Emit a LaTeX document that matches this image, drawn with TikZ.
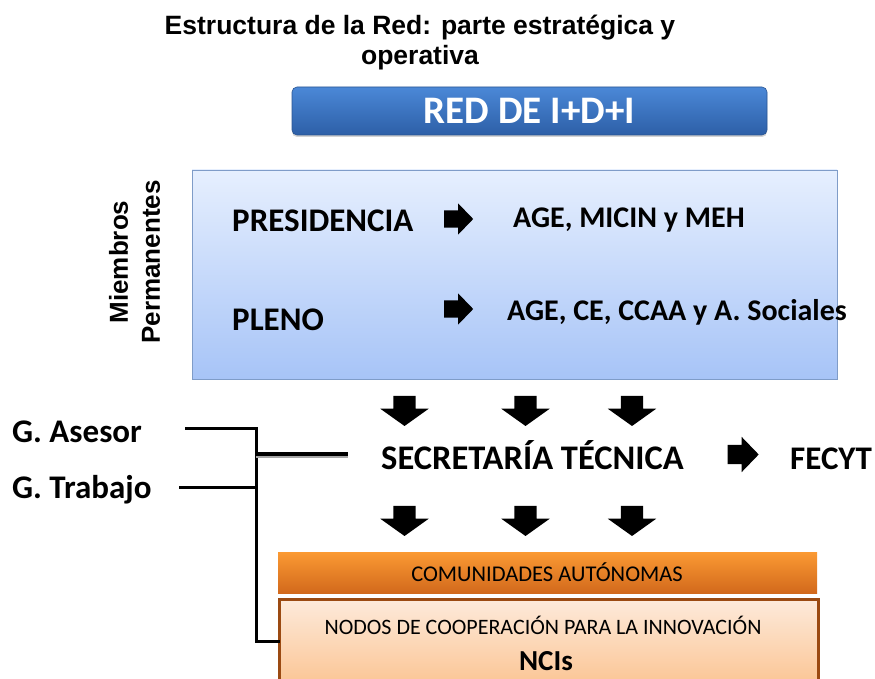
\documentclass[tikz,border=0pt]{standalone}
\usepackage{fontspec}
\setmainfont{Carlito}
\newfontfamily\arialf{Liberation Sans}
\usetikzlibrary{shapes.arrows,shadows}
\definecolor{blueTop}{HTML}{E6EFFE}
\definecolor{blueBot}{HTML}{A7C4F7}
\definecolor{blueBorder}{HTML}{7F9CC8}
\definecolor{redTop}{HTML}{4B88D7}
\definecolor{redBot}{HTML}{2D5FA7}
\definecolor{redBorder}{HTML}{2A5592}
\definecolor{orTop}{HTML}{FB9A33}
\definecolor{orBot}{HTML}{D2691C}
\definecolor{peTop}{HTML}{FDEADB}
\definecolor{peBot}{HTML}{FBC594}
\definecolor{peBorder}{HTML}{9B4A12}
\newcommand{\fsz}[1]{\fontsize{#1}{#1}\selectfont}
\begin{document}
\begin{tikzpicture}[x=1pt,y=-1pt,
  txt/.style={inner sep=0pt, anchor=base west, font=\bfseries\fsz{33}},
  agetxt/.style={inner sep=0pt, anchor=base west, font=\bfseries\fsz{30}},
  rarrow/.style={single arrow, fill=black, draw=none, inner xsep=0pt, inner ysep=8.5pt,
    minimum height=29pt, single arrow head extend=7pt,
    single arrow tip angle=92},
  darrow/.style={single arrow, fill=black, draw=none, inner xsep=0pt, inner ysep=11pt,
    minimum height=30pt, single arrow head extend=13pt,
    single arrow tip angle=109, rotate=270},
  conn/.style={line width=3pt, black},
  panel/.style={draw, inner sep=0pt}
]
\useasboundingbox (0,0) rectangle (875,679);

% title
\node[inner sep=0pt, anchor=north, align=center, font=\arialf\bfseries\fontsize{26.5}{30}\selectfont]
  (title) at (420,15) {Estructura de la Red: parte estratégica y\\operativa};

% RED box
\node[panel, rounded corners=5pt, draw=redBorder, line width=0.6pt,
  top color=redTop, bottom color=redBot,
  minimum width=475pt, minimum height=48pt,
  drop shadow={shadow xshift=0pt, shadow yshift=-2pt, opacity=0.35},
  text=white, font=\bfseries\fsz{39}] (red) at (529.5,111) {RED DE I+D+I};

% permanent members box
\node[panel, draw=blueBorder, line width=0.8pt, top color=blueTop, bottom color=blueBot,
  minimum width=645pt, minimum height=209pt] (perm) at (514.5,274.5) {};

\node[inner sep=0pt, rotate=90, font=\arialf\bfseries\fsz{26}] (miem) at (118.5,262) {Miembros};
\node[inner sep=0pt, rotate=90, font=\arialf\bfseries\fsz{26}] (permtxt) at (151,262) {Permanentes};

\node[txt] (pres) at (232,231) {PRESIDENCIA};
\node[rarrow] (a1) at (454.5,219) {};
\node[agetxt] (age1) at (513,227) {AGE, MICIN y MEH};

\node[txt] (pleno) at (232,330) {PLENO};
\node[rarrow] (a2) at (454.5,309) {};
\node[agetxt] (age2) at (507,320) {AGE, CE, CCAA y A. Sociales};

% down arrows row 1
\node[darrow] (d1) at (404.5,407) {};
\node[darrow] (d2) at (525.5,407) {};
\node[darrow] (d3) at (632,407) {};

% secretaria
\node[txt, font=\bfseries\fsz{34.5}] (sec) at (381,469) {SECRETARÍA TÉCNICA};
\node[rarrow, inner ysep=9.5pt, minimum height=31pt, single arrow head extend=8pt] (a3) at (738.5,454.5) {};
\node[txt] (fecyt) at (790,469) {FECYT};

% down arrows row 2
\node[darrow] (d4) at (404.5,517) {};
\node[darrow] (d5) at (525.5,517) {};
\node[darrow] (d6) at (632,517) {};

% groups
\node[txt] (ases) at (12,442) {G. Asesor};
\node[txt] (trab) at (12,498) {G. Trabajo};

% bottom boxes
\node[panel, draw=none, top color=orTop, bottom color=orBot,
  minimum width=539pt, minimum height=41pt] (ccaa) at (547.5,572.5) {};
\node[inner sep=0pt, font=\fsz{22.5}] (ccaatxt) at (547,572) {COMUNIDADES AUTÓNOMAS};

\node[panel, draw=peBorder, line width=3pt, top color=peTop, bottom color=peBot,
  minimum width=539pt, minimum height=86pt] (nci) at (549,642) {};
\node[inner sep=0pt, anchor=base, font=\fsz{22}] (ncitxt) at (543,634) {NODOS DE COOPERACIÓN PARA LA INNOVACIÓN};
\node[inner sep=0pt, anchor=base, font=\bfseries\fsz{29}] (ncis) at (546,670) {NCIs};

% connectors
\coordinate (aS) at (186,428);
\coordinate (tS) at (179,487);
\coordinate (jTop) at (256,428);
\coordinate (jBot) at (256,641);
\coordinate (jMid) at (256,454);
\coordinate (mEnd) at (348,454);
\draw[conn, line cap=rect] (aS) -- (jTop) -- (jBot) -- (jBot -| nci.west);
\draw[conn] (tS) -- (tS -| jTop);
\draw[line width=3pt, gray!70] ([yshift=-2.5pt]jMid) -- ([yshift=-2.5pt]mEnd);
\draw[line width=3.5pt, black] (jMid) -- (mEnd);
\end{tikzpicture}
\end{document}
